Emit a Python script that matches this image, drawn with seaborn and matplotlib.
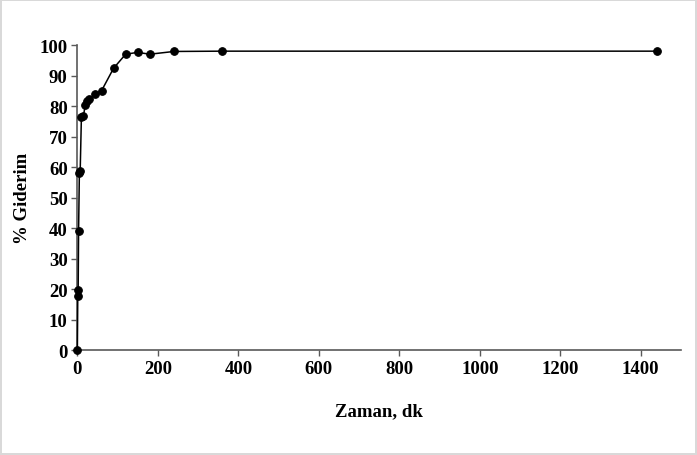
import numpy as np
import pandas as pd
import seaborn as sns
import matplotlib.pyplot as plt

# time (min) and removal (%)
zaman = [0, 1, 2, 3, 5, 7, 10, 15, 20, 25, 30, 45, 60, 90, 120, 150, 180, 240, 360, 1440]
giderim = [0, 17.7, 19.8, 39, 58.2, 58.6, 76.3, 76.8, 80.5, 81.6, 82.3, 84, 85, 92.4, 97, 97.6, 97, 97.9, 98, 98]

df = pd.DataFrame({"Zaman": zaman, "Giderim": giderim})

sns.set_style("white")
plt.rcParams["font.family"] = ["Liberation Serif", "DejaVu Serif"]
plt.rcParams["font.weight"] = "bold"
plt.rcParams["text.color"] = "black"
plt.rcParams["axes.labelcolor"] = "black"

fig = plt.figure(figsize=(6.97, 4.56), dpi=100, edgecolor="#d9d9d9", linewidth=1.5)
ax = fig.add_axes([0.111, 0.23, 0.866, 0.669])

sns.lineplot(data=df, x="Zaman", y="Giderim", ax=ax, color="black", linewidth=1.1,
             marker="o", markersize=5.5, markeredgecolor="black", sort=False,
             clip_on=False, zorder=5)

ax.set_xlim(0, 1500)
ax.set_ylim(0, 100)
ax.set_xticks(np.arange(0, 1401, 200))
ax.set_yticks(np.arange(0, 101, 10))
ax.set_xlabel("Zaman, dk", fontsize=13.5, fontweight="bold", labelpad=18)
ax.set_ylabel("% Giderim", fontsize=13.5, fontweight="bold", labelpad=6)
ax.tick_params(axis="both", labelsize=13.5, direction="out", length=4, width=1,
               color="#595959", labelcolor="black", left=True, bottom=True, pad=3)
for lbl in ax.get_xticklabels() + ax.get_yticklabels():
    lbl.set_fontweight("bold")

for s in ["top", "right"]:
    ax.spines[s].set_visible(False)
for s in ["left", "bottom"]:
    ax.spines[s].set_color("#595959")
    ax.spines[s].set_linewidth(1.2)

fig.savefig("out.png", dpi=100)
